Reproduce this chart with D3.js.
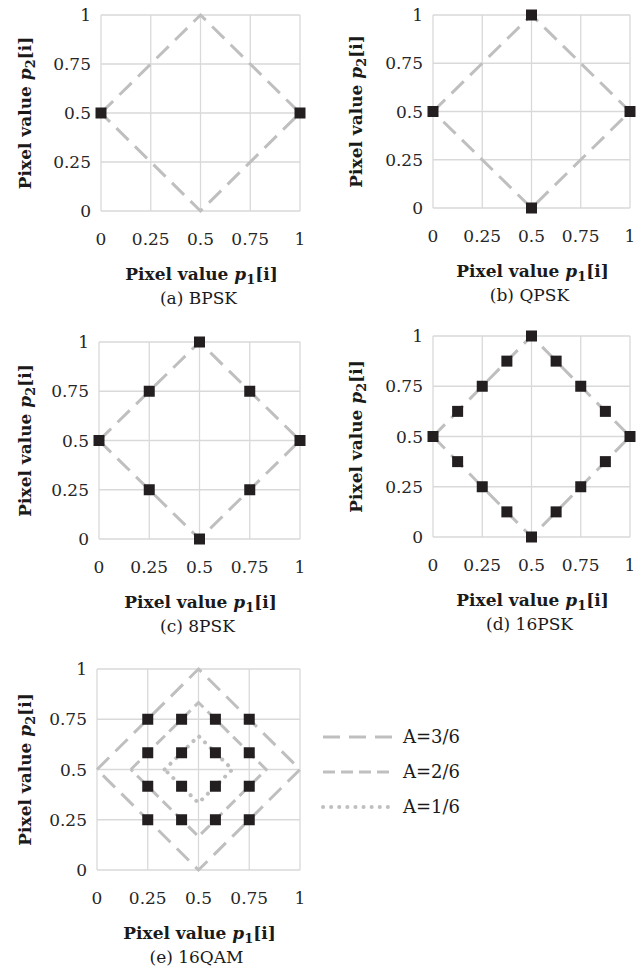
<!DOCTYPE html>
<html>
<head>
<meta charset="utf-8">
<script src="https://cdn.jsdelivr.net/npm/d3@7"></script>
<style>
  body { margin: 0; background: #fff; }
  svg text { font-family: "DejaVu Serif", "Liberation Serif", serif; }
  .tick-label { font-size: 17px; fill: #262626; }
  .axis-title { font-size: 17px; font-weight: bold; fill: #1a1a1a; }
  .caption { font-size: 17px; fill: #1a1a1a; }
  .legend-label { font-size: 18px; fill: #1a1a1a; }
</style>
</head>
<body>
<div id="chart"></div>
<script>
// Tick values shared by both axes
const ticks = [0, 0.25, 0.5, 0.75, 1];
const tickLabels = ["0", "0.25", "0.5", "0.75", "1"];

// Constellation points
const bpskX = [0, 1];
const bpskY = [0.5, 0.5];
const qpskX = [0, 0.5, 1, 0.5];
const qpskY = [0.5, 1, 0.5, 0];
const psk8X = [0, 0.25, 0.5, 0.75, 1, 0.75, 0.5, 0.25];
const psk8Y = [0.5, 0.75, 1, 0.75, 0.5, 0.25, 0, 0.25];
const psk16X = [0, 0.125, 0.25, 0.375, 0.5, 0.625, 0.75, 0.875, 1, 0.875, 0.75, 0.625, 0.5, 0.375, 0.25, 0.125];
const psk16Y = [0.5, 0.625, 0.75, 0.875, 1, 0.875, 0.75, 0.625, 0.5, 0.375, 0.25, 0.125, 0, 0.125, 0.25, 0.375];
const qamLevels = [0.25, 0.4167, 0.5833, 0.75];

// Amplitude diamonds (closed loops)
const ringA3X = [0, 0.5, 1, 0.5, 0];
const ringA3Y = [0.5, 1, 0.5, 0, 0.5];
const ringA2X = [0.1667, 0.5, 0.8333, 0.5, 0.1667];
const ringA2Y = [0.5, 0.8333, 0.5, 0.1667, 0.5];
const ringA1X = [0.3333, 0.5, 0.6667, 0.5, 0.3333];
const ringA1Y = [0.5, 0.6667, 0.5, 0.3333, 0.5];

const legendNames = ["A=3/6", "A=2/6", "A=1/6"];

const W = 636, H = 977;
const gridColor = "#d9d9d9";
const lineColor = "#bfbfbf";
const markColor = "#231f20";
const dashStyles = { long: "17,9", medium: "12,6", dot: "0.1,8" };

const svg = d3.select("#chart").append("svg")
    .attr("width", W)
    .attr("height", H);

const zip = (xs, ys) => xs.map((x, i) => ({x: x, y: ys[i]}));

function addTitle(sel, sub) {
    sel.append("tspan").text("Pixel value ");
    sel.append("tspan").attr("font-style", "italic").text("p");
    sel.append("tspan").attr("font-size", "13px").attr("dy", 4).text(sub);
    sel.append("tspan").attr("dy", -4).text("[i]");
}

function drawPanel(box, rings, points, caption) {
    const x = d3.scaleLinear().domain([0, 1]).range([box.left, box.right]);
    const y = d3.scaleLinear().domain([0, 1]).range([box.bottom, box.top]);
    const g = svg.append("g");

    // grid
    g.selectAll(".vgrid").data(ticks).enter().append("line")
        .attr("x1", d => x(d)).attr("x2", d => x(d))
        .attr("y1", y(0)).attr("y2", y(1))
        .attr("stroke", gridColor).attr("stroke-width", 1.3);
    g.selectAll(".hgrid").data(ticks).enter().append("line")
        .attr("x1", x(0)).attr("x2", x(1))
        .attr("y1", d => y(d)).attr("y2", d => y(d))
        .attr("stroke", gridColor).attr("stroke-width", 1.3);

    // tick labels
    g.selectAll(".xt").data(ticks).enter().append("text")
        .attr("class", "tick-label")
        .attr("x", d => x(d))
        .attr("y", box.bottom + 34)
        .attr("text-anchor", "middle")
        .text((d, i) => tickLabels[i]);
    g.selectAll(".yt").data(ticks).enter().append("text")
        .attr("class", "tick-label")
        .attr("x", box.left - 10)
        .attr("y", d => y(d) + 6)
        .attr("text-anchor", "end")
        .text((d, i) => tickLabels[i]);

    // rings
    const line = d3.line().x(d => x(d.x)).y(d => y(d.y));
    rings.forEach(r => {
        g.append("path")
            .datum(r.pts)
            .attr("d", line)
            .attr("fill", "none")
            .attr("stroke", lineColor)
            .attr("stroke-width", r.style === "dot" ? 4 : 3)
            .attr("stroke-linecap", r.style === "dot" ? "round" : "butt")
            .attr("stroke-dasharray", dashStyles[r.style]);
    });

    // markers
    const s = 11;
    g.selectAll(".pt").data(points).enter().append("rect")
        .attr("x", d => x(d.x) - s / 2)
        .attr("y", d => y(d.y) - s / 2)
        .attr("width", s).attr("height", s)
        .attr("fill", markColor);

    // axis titles
    const xt = g.append("text").attr("class", "axis-title")
        .attr("x", (box.left + box.right) / 2 + 1)
        .attr("y", box.bottom + 69)
        .attr("text-anchor", "middle");
    addTitle(xt, "1");

    const yc = (box.top + box.bottom) / 2;
    const yt = g.append("text").attr("class", "axis-title")
        .attr("transform", `translate(${box.titleX},${yc}) rotate(-90)`)
        .attr("text-anchor", "middle");
    addTitle(yt, "2");

    g.append("text").attr("class", "caption")
        .attr("x", (box.left + box.right) / 2 - 2)
        .attr("y", box.bottom + 93)
        .attr("text-anchor", "middle")
        .text(caption);
}

const outer = zip(ringA3X, ringA3Y);

drawPanel({left: 101, right: 300, top: 15, bottom: 211, titleX: 31},
    [{pts: outer, style: "long"}], zip(bpskX, bpskY), "(a) BPSK");
drawPanel({left: 433, right: 630, top: 15, bottom: 208, titleX: 362},
    [{pts: outer, style: "long"}], zip(qpskX, qpskY), "(b) QPSK");
drawPanel({left: 99, right: 300, top: 342, bottom: 539, titleX: 31},
    [{pts: outer, style: "long"}], zip(psk8X, psk8Y), "(c) 8PSK");
drawPanel({left: 433, right: 630, top: 336, bottom: 537, titleX: 362},
    [{pts: outer, style: "long"}], zip(psk16X, psk16Y), "(d) 16PSK");

const qamPts = [];
qamLevels.forEach(yv => qamLevels.forEach(xv => qamPts.push({x: xv, y: yv})));
drawPanel({left: 97, right: 300, top: 669, bottom: 870, titleX: 31},
    [{pts: outer, style: "long"},
     {pts: zip(ringA2X, ringA2Y), style: "medium"},
     {pts: zip(ringA1X, ringA1Y), style: "dot"}],
    qamPts, "(e) 16QAM");

// legend
const legendStyles = ["long", "medium", "dot"];
const leg = svg.append("g").attr("transform", "translate(323,737)");
legendNames.forEach((name, i) => {
    const row = leg.append("g").attr("transform", `translate(0,${i * 35})`);
    row.append("line")
        .attr("x1", 0).attr("x2", 70)
        .attr("stroke", lineColor)
        .attr("stroke-width", legendStyles[i] === "dot" ? 4 : 3)
        .attr("stroke-linecap", legendStyles[i] === "dot" ? "round" : "butt")
        .attr("stroke-dasharray", dashStyles[legendStyles[i]]);
    row.append("text")
        .attr("class", "legend-label")
        .attr("x", 80).attr("y", 6)
        .text(name);
});
</script>
</body>
</html>
